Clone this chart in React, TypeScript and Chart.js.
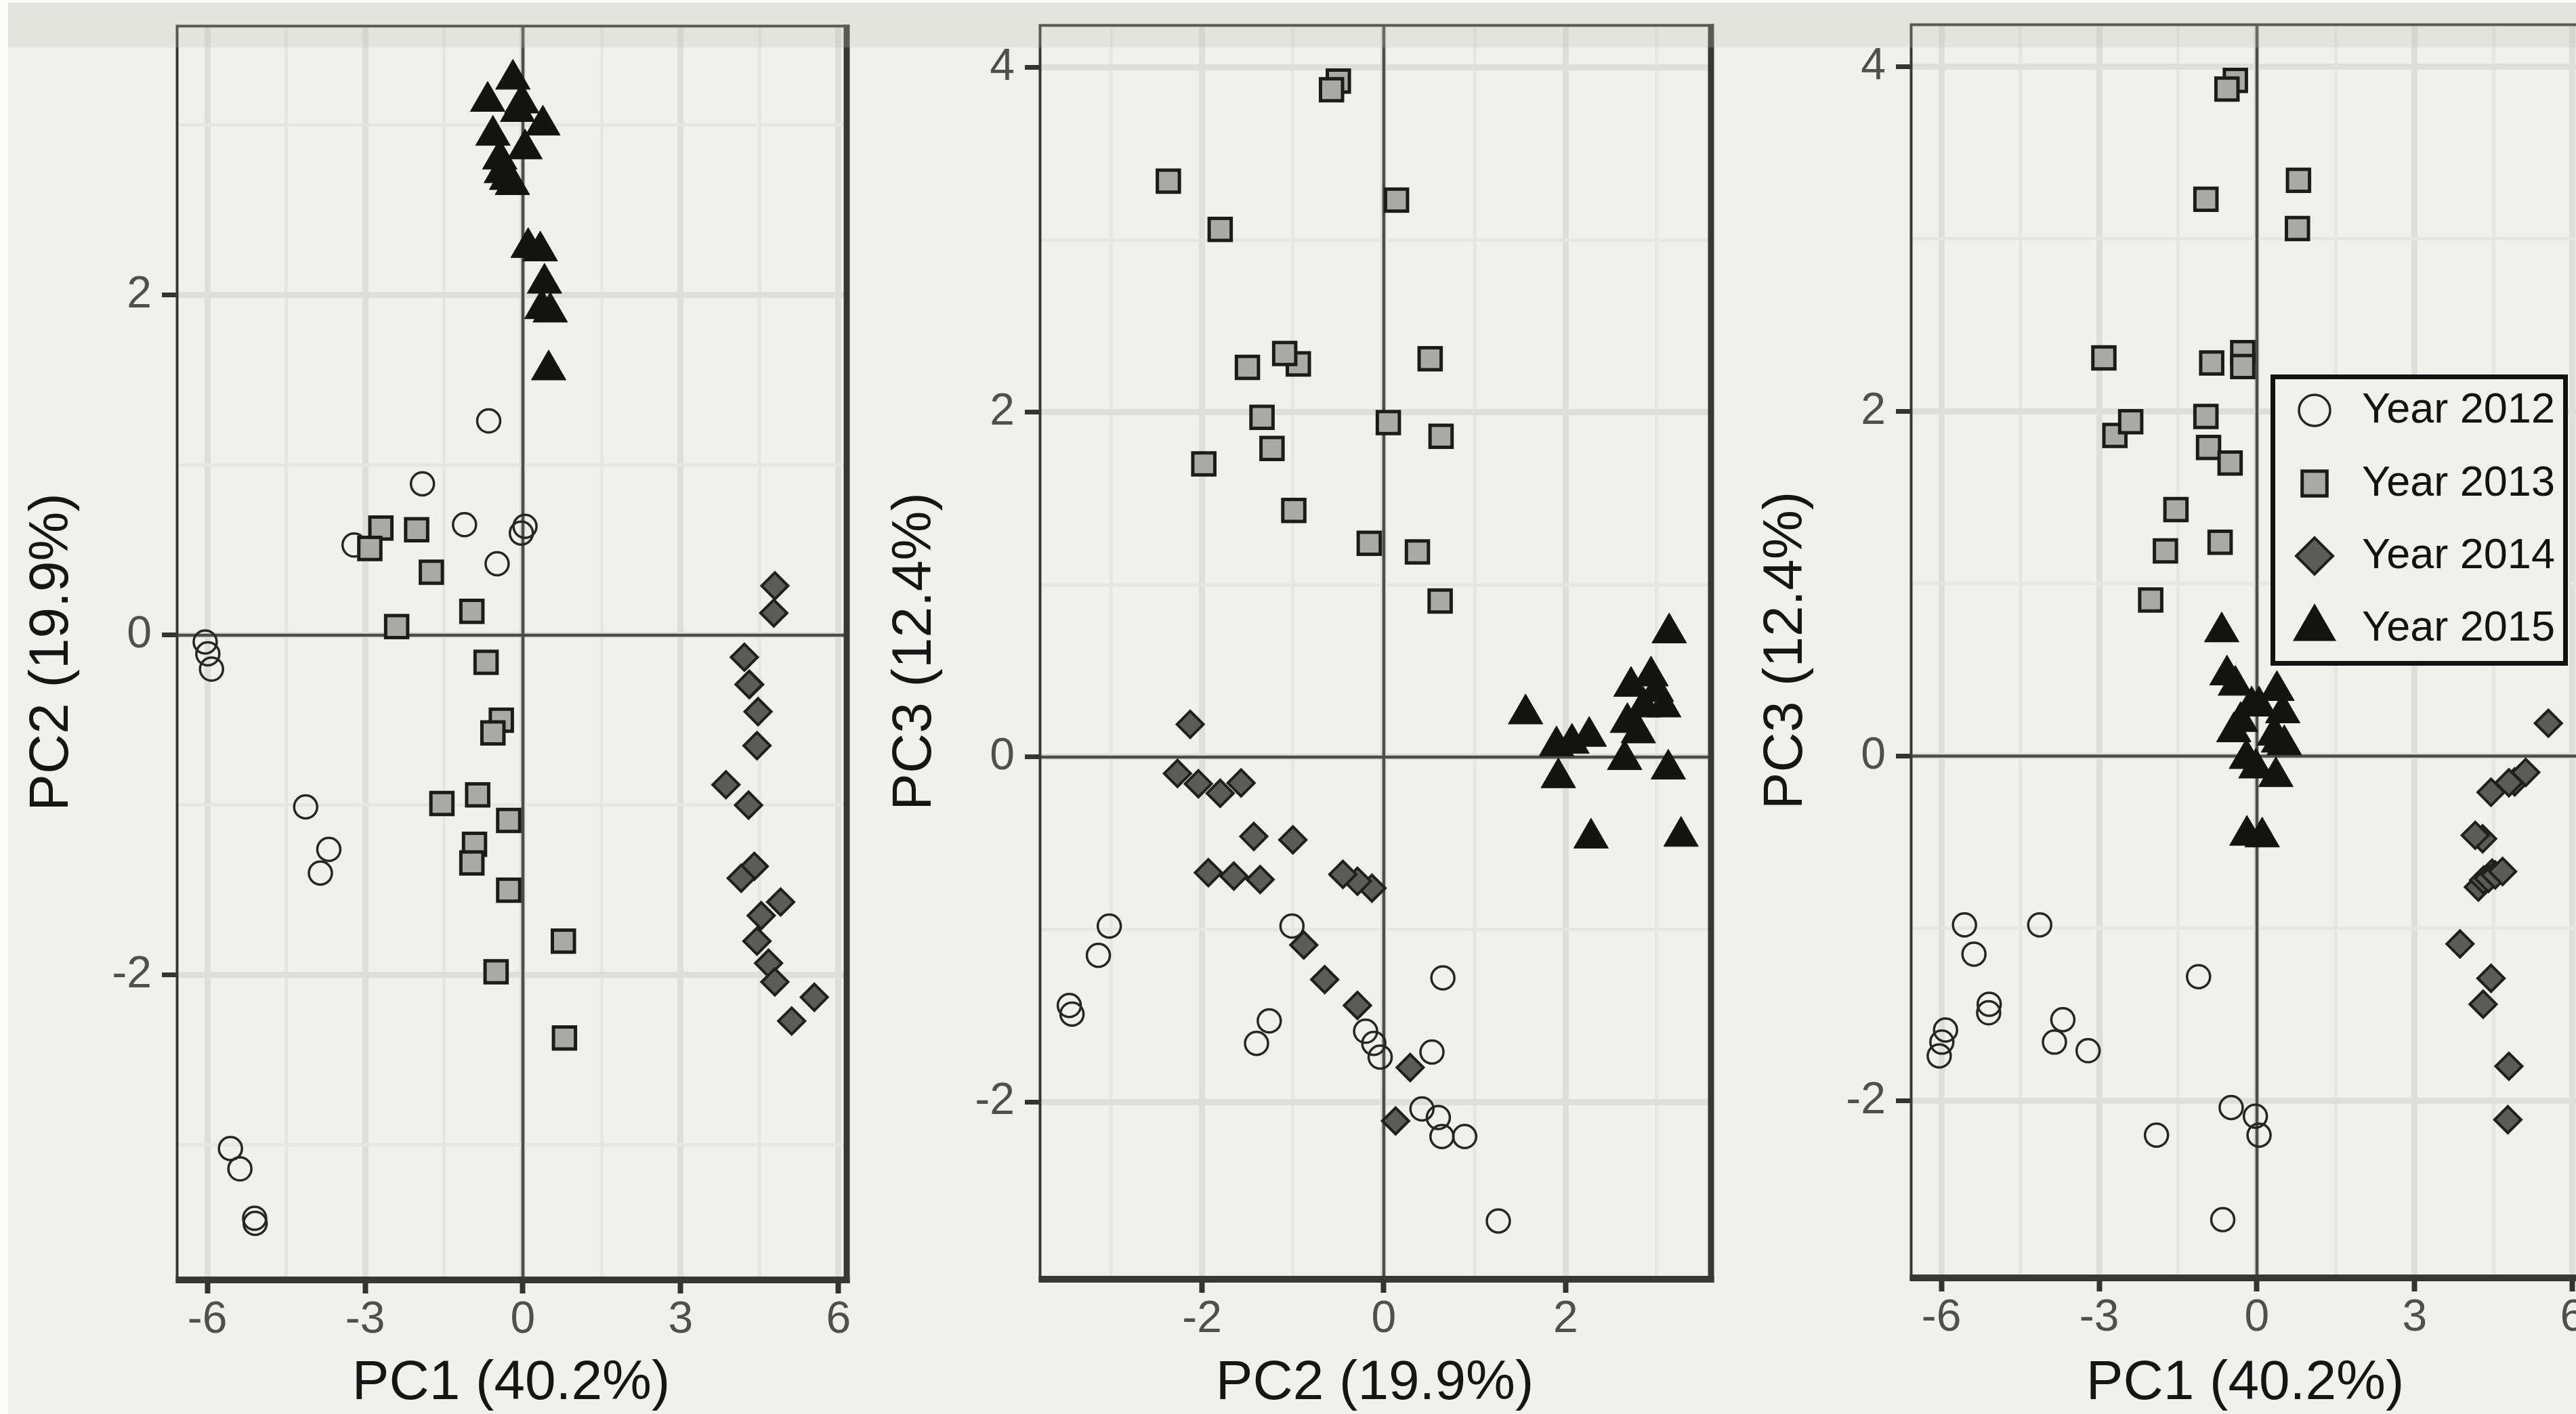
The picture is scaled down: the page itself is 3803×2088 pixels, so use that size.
import React, { useEffect, useRef } from 'react';
import { Chart, registerables } from 'chart.js';

Chart.register(...registerables);

// ---------------- DATA (principal component scores per sampling year) ----------------
const YEAR_LABELS = ['Year 2012', 'Year 2013', 'Year 2014', 'Year 2015'];

const PC1_2012 = [-0.65, -1.91, -1.11, 0.04, -0.03, -3.21, -0.49, -6.04, -5.99, -5.92, -4.13, -3.69, -3.85, -5.56, -5.38, -5.10, -5.09];
const PC2_2012 = [1.26, 0.89, 0.65, 0.64, 0.60, 0.53, 0.42, -0.04, -0.11, -0.20, -1.01, -1.26, -1.40, -3.02, -3.14, -3.43, -3.46];
const PC3_2012 = [-2.69, -2.20, -1.28, -2.20, -2.09, -1.71, -2.04, -1.74, -1.66, -1.59, -0.98, -1.53, -1.66, -0.98, -1.15, -1.49, -1.44];

const PC1_2013 = [-2.70, -2.02, -2.91, -1.74, -0.97, -2.40, -0.70, -0.41, -0.57, -1.54, -0.86, -0.27, -0.92, -0.97, -0.27, 0.77, -0.51, 0.79];
const PC2_2013 = [0.63, 0.62, 0.51, 0.37, 0.14, 0.05, -0.16, -0.50, -0.575, -0.99, -0.94, -1.09, -1.23, -1.34, -1.50, -1.80, -1.98, -2.37];
const PC3_2013 = [1.86, 0.905, 2.31, 1.19, 3.23, 1.94, 1.24, 3.92, 3.87, 1.43, 2.28, 2.34, 1.79, 1.97, 2.26, 3.06, 1.70, 3.34];

const PC1_2014 = [4.79, 4.77, 4.21, 4.31, 4.30, 4.47, 4.45, 3.86, 4.29, 4.40, 4.15, 4.90, 4.53, 4.45, 4.67, 4.79, 5.54, 5.11];
const PC2_2014 = [0.29, 0.13, -0.13, -0.29, -0.29, -0.45, -0.65, -0.88, -1.00, -1.36, -1.43, -1.57, -1.65, -1.80, -1.93, -2.04, -2.13, -2.27];
const PC3_2014 = [-1.80, -2.11, -0.76, -0.72, -1.44, -0.68, -1.29, -1.09, -0.48, -0.71, -0.46, -0.15, -0.69, -0.21, -0.67, -0.155, 0.19, -0.095];

const PC1_2015 = [0.49, 0.52, 0.36, 0.41, 0.33, 0.10, -0.20, -0.31, -0.41, -0.44, 0.04, -0.57, 0.38, -0.10, -0.02, -0.67, -0.19];
const PC2_2015 = [1.56, 1.90, 1.92, 2.07, 2.26, 2.28, 2.65, 2.68, 2.72, 2.80, 2.86, 2.94, 3.00, 3.08, 3.13, 3.14, 3.27];
const PC3_2015 = [0.25, 0.065, -0.12, 0.08, 0.12, -0.47, -0.015, 0.20, 0.41, 0.14, 0.29, 0.47, 0.38, 0.29, -0.07, 0.72, -0.46];

// tick labels (major) and minor grid positions
const PC1_TICKS = [-6, -3, 0, 3, 6];
const PC1_MINOR = [-4.5, -1.5, 1.5, 4.5];
const PC2_TICKS = [-2, 0, 2];
const PC2_MINOR = [-3, -1, 1, 3];
const PC3_TICKS = [-2, 0, 2, 4];
const PC3_MINOR = [-1, 1, 3];

const PC1_TITLE = 'PC1 (40.2%)';
const PC2_TITLE = 'PC2 (19.9%)';
const PC3_TITLE = 'PC3 (12.4%)';

// ---------------- STYLE ----------------
const FONT = 'Liberation Sans, Arial, Helvetica, sans-serif';
const BG = '#f0f1ec';
const GRID_MAJOR = '#dedfd9';
const GRID_MINOR = '#e6e7e1';
const ZERO_COLOR = '#4c4d48';
const FRAME_COLOR = '#363833';
const TICK_LABEL_COLOR = '#4f4f4f';
const TITLE_COLOR = '#151515';

const POINT_STYLES = ['circle', 'rect', 'rectRot', 'triangle'];
const POINT_RADIUS = [17, 23, 19.5, 29.5];
const POINT_FILL = ['rgba(0,0,0,0)', '#a9a9a5', '#5b5c58', '#131412'];
const POINT_STROKE = ['#262626', '#1b1c1a', '#1f201e', '#131412'];
const POINT_BW = [3.5, 5, 4, 1];
// legend key sizes
const KEY_SIZE = [23, 18.3, 27, 37];
const KEY_BW = [3.5, 5, 4, 0];

const YW = 261; // y-axis band width
const PAD = 100; // off-page slack
const PAGE_W = 3803;
const PAGE_H = 2088;

const AXES: any = {
  pc1: { title: PC1_TITLE, min: -6.58, max: 6.13, major: PC1_TICKS, minor: PC1_MINOR },
  pc2: { title: PC2_TITLE, min: -3.785, max: 3.585, major: PC2_TICKS, minor: PC2_MINOR },
  pc3: { title: PC3_TITLE, min: -3.02, max: 4.245, major: PC3_TICKS, minor: PC3_MINOR },
};

const PANELS = [
  { x: 'pc1', y: 'pc2', left: 261, right: 1248, top: 38, bottom: 1888, legend: false },
  { x: 'pc2', y: 'pc3', left: 1535, right: 2524, top: 37, bottom: 1887, legend: false },
  { x: 'pc1', y: 'pc3', left: 2821, right: 3808, top: 36, bottom: 1885, legend: true },
];

const SERIES: any = {
  pc1: [PC1_2012, PC1_2013, PC1_2014, PC1_2015],
  pc2: [PC2_2012, PC2_2013, PC2_2014, PC2_2015],
  pc3: [PC3_2012, PC3_2013, PC3_2014, PC3_2015],
};

function isIn(list: number[], v: number) {
  return list.some((t) => Math.abs(t - v) < 1e-6);
}

function drawMarker(ctx: CanvasRenderingContext2D, style: string, x: number, y: number, s: number, fill: string, stroke: string, lw: number) {
  ctx.beginPath();
  if (style === 'circle') {
    ctx.arc(x, y, s, 0, Math.PI * 2);
  } else if (style === 'rect') {
    ctx.rect(x - s, y - s, 2 * s, 2 * s);
  } else if (style === 'rectRot') {
    ctx.moveTo(x - s, y);
    ctx.lineTo(x, y - s);
    ctx.lineTo(x + s, y);
    ctx.lineTo(x, y + s);
    ctx.closePath();
  } else {
    ctx.moveTo(x, y - s);
    ctx.lineTo(x + s * 0.8660254, y + s / 2);
    ctx.lineTo(x - s * 0.8660254, y + s / 2);
    ctx.closePath();
  }
  if (fill) {
    ctx.fillStyle = fill;
    ctx.fill();
  }
  if (lw > 0) {
    ctx.lineWidth = lw;
    ctx.strokeStyle = stroke;
    ctx.stroke();
  }
}

const zeroLinePlugin = {
  id: 'zeroLines',
  beforeDatasetsDraw(chart: any) {
    const { ctx, chartArea: a, scales } = chart;
    const px = scales.x.getPixelForValue(0);
    const py = scales.y.getPixelForValue(0);
    ctx.save();
    ctx.beginPath();
    ctx.rect(a.left, a.top, a.right - a.left, a.bottom - a.top);
    ctx.clip();
    ctx.strokeStyle = ZERO_COLOR;
    ctx.lineWidth = 4.5;
    ctx.beginPath();
    ctx.moveTo(px, a.top);
    ctx.lineTo(px, a.bottom);
    ctx.moveTo(a.left, py);
    ctx.lineTo(a.right, py);
    ctx.stroke();
    ctx.restore();
  },
};

const framePlugin = {
  id: 'panelFrame',
  afterDatasetsDraw(chart: any) {
    const { ctx, chartArea: a } = chart;
    ctx.save();
    ctx.strokeStyle = FRAME_COLOR;
    ctx.lineWidth = 4;
    ctx.beginPath();
    ctx.moveTo(a.left + 0.5, a.bottom + 6);
    ctx.lineTo(a.left + 0.5, a.top - 1.5);
    ctx.moveTo(a.left - 1.5, a.top + 0.5);
    ctx.lineTo(a.right + 6, a.top + 0.5);
    ctx.stroke();
    ctx.lineWidth = 9;
    ctx.beginPath();
    ctx.moveTo(a.right + 2, a.top - 1.5);
    ctx.lineTo(a.right + 2, a.bottom + 7);
    ctx.stroke();
    ctx.lineWidth = 10;
    ctx.beginPath();
    ctx.moveTo(a.left - 1.5, a.bottom + 2);
    ctx.lineTo(a.right + 6.5, a.bottom + 2);
    ctx.stroke();
    ctx.restore();
  },
};

const legendPlugin = {
  id: 'insetLegend',
  afterDraw(chart: any) {
    const { ctx, chartArea: a } = chart;
    const bx = a.left + 531;
    const by = a.top + 517;
    const w = 439;
    const h = 430;
    const rows = [53, 161, 268, 375];
    ctx.save();
    ctx.fillStyle = BG;
    ctx.fillRect(bx, by, w, h);
    ctx.lineWidth = 7;
    ctx.strokeStyle = '#121212';
    ctx.strokeRect(bx + 3.5, by + 3.5, w - 7, h - 7);
    ctx.font = `63px ${FONT}`;
    ctx.textBaseline = 'middle';
    ctx.textAlign = 'left';
    YEAR_LABELS.forEach((lab, i) => {
      const cy = by + rows[i];
      drawMarker(ctx, POINT_STYLES[i], bx + 65, cy, KEY_SIZE[i], POINT_FILL[i], POINT_STROKE[i], KEY_BW[i]);
      ctx.fillStyle = '#121212';
      ctx.fillText(lab, bx + 135, cy + 1);
    });
    ctx.restore();
  },
};

function axisOptions(key: string, dir: 'x' | 'y', panel: any) {
  const ax = AXES[key];
  const all = [...ax.major, ...ax.minor].filter((v: number) => v > ax.min && v < ax.max).sort((p: number, q: number) => p - q);
  return {
    type: 'linear',
    position: dir === 'x' ? 'bottom' : 'left',
    min: ax.min,
    max: ax.max,
    bounds: 'data',
    afterBuildTicks: (s: any) => {
      s.ticks = all.map((v: number) => ({ value: v }));
    },
    afterFit: (s: any) => {
      if (dir === 'x') s.height = PAGE_H - panel.bottom;
      else s.width = YW;
    },
    border: { display: false },
    grid: {
      drawOnChartArea: true,
      drawTicks: true,
      tickLength: 22,
      tickWidth: dir === 'x' ? 8 : 7,
      tickColor: (c: any) => (c.tick && isIn(ax.major, c.tick.value) ? '#333333' : 'rgba(0,0,0,0)'),
      color: (c: any) => (c.tick && isIn(ax.major, c.tick.value) ? GRID_MAJOR : GRID_MINOR),
      lineWidth: (c: any) => (c.tick && isIn(ax.major, c.tick.value) ? 9 : 5),
    },
    ticks: {
      autoSkip: false,
      maxRotation: 0,
      minRotation: 0,
      padding: dir === 'x' ? 7 : 15,
      color: TICK_LABEL_COLOR,
      font: { family: FONT, size: 66, lineHeight: 1 },
      callback: (v: number) => (isIn(ax.major, v) ? String(v) : ''),
    },
    title: {
      display: true,
      text: ax.title,
      color: TITLE_COLOR,
      font: { family: FONT, size: 82, lineHeight: 1 },
      padding: dir === 'x' ? { top: 0, bottom: 4 } : { top: 36.5, bottom: 0 },
    },
  };
}

function buildConfig(panel: any): any {
  const xs = SERIES[panel.x];
  const ys = SERIES[panel.y];
  const datasets = YEAR_LABELS.map((label, i) => ({
    label,
    data: xs[i].map((v: number, j: number) => ({ x: v, y: ys[i][j] })),
    pointStyle: POINT_STYLES[i],
    pointRadius: POINT_RADIUS[i],
    pointHoverRadius: POINT_RADIUS[i],
    pointBackgroundColor: POINT_FILL[i],
    pointBorderColor: POINT_STROKE[i],
    pointBorderWidth: POINT_BW[i],
    showLine: false,
    order: 3 - i,
  }));
  return {
    type: 'scatter',
    data: { datasets },
    options: {
      animation: false,
      responsive: false,
      maintainAspectRatio: false,
      devicePixelRatio: 1,
      events: [],
      layout: { padding: { left: 0, top: panel.top + PAD, right: PAD, bottom: 0 } },
      plugins: { legend: { display: false }, tooltip: { enabled: false }, title: { display: false } },
      scales: { x: axisOptions(panel.x, 'x', panel), y: axisOptions(panel.y, 'y', panel) },
    },
    plugins: panel.legend ? [zeroLinePlugin, framePlugin, legendPlugin] : [zeroLinePlugin, framePlugin],
  };
}

export default function App() {
  const refs = useRef<(HTMLCanvasElement | null)[]>([]);

  useEffect(() => {
    Chart.defaults.font.family = FONT;
    const charts = PANELS.map((p, i) => {
      const cv = refs.current[i];
      if (!cv) return null;
      return new Chart(cv, buildConfig(p));
    });
    return () => {
      charts.forEach((c) => c && c.destroy());
    };
  }, []);

  return (
    <div
      style={{
        position: 'fixed',
        left: 0,
        top: 0,
        width: PAGE_W,
        height: PAGE_H,
        overflow: 'hidden',
        background: '#fbfbf9',
      }}
    >
      <div style={{ position: 'absolute', left: 12, top: 4, right: 0, bottom: 0, background: BG }} />
      {PANELS.map((p, i) => {
        const w = YW + (p.right - p.left) + PAD;
        const h = PAGE_H + PAD;
        return (
          <canvas
            key={i}
            ref={(el) => {
              refs.current[i] = el;
            }}
            width={w}
            height={h}
            style={{ position: 'absolute', left: p.left - YW, top: -PAD, width: w, height: h, display: 'block' }}
          />
        );
      })}
      <div
        style={{
          position: 'absolute',
          left: 12,
          top: 4,
          right: 0,
          height: 66,
          background: 'rgba(190,195,178,0.26)',
          pointerEvents: 'none',
        }}
      />
    </div>
  );
}
